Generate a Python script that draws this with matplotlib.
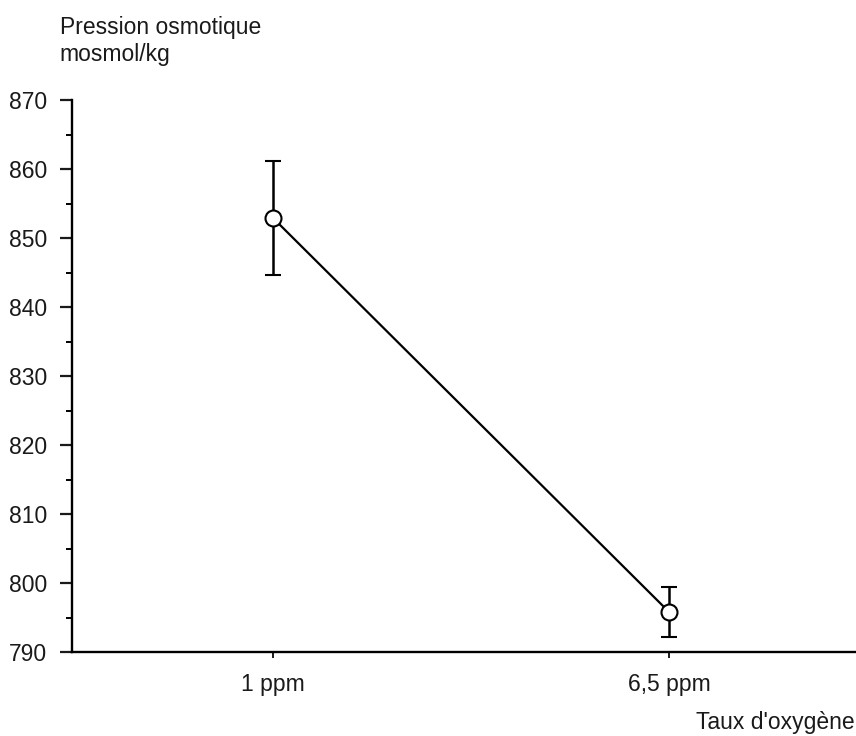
import matplotlib.pyplot as plt
import numpy as np
from matplotlib.ticker import MultipleLocator

plt.rcParams['font.family'] = ['Liberation Sans', 'DejaVu Sans']

labels = ['1 ppm', '6,5 ppm']
pression = [852.9, 795.8]
erreur = [8.3, 3.6]

fig = plt.figure(figsize=(8.56, 7.36), dpi=100)
ax = fig.add_axes([0.0841, 0.1141, 0.9159, 0.750])

x = np.arange(len(labels))
ax.errorbar(x, pression, yerr=erreur, color='black', linewidth=1.6,
            elinewidth=1.8, capsize=6, capthick=1.6, marker='o',
            markersize=11.5, markerfacecolor='white', markeredgecolor='black',
            markeredgewidth=1.5, zorder=3)

ax.set_xlim(-0.5076, 1.472)
ax.set_ylim(790, 870)
ax.set_xticks(x)
ax.set_xticklabels(labels)
ax.yaxis.set_major_locator(MultipleLocator(10))
ax.yaxis.set_minor_locator(MultipleLocator(5))

for s in ['top', 'right']:
    ax.spines[s].set_visible(False)
for s in ['left', 'bottom']:
    ax.spines[s].set_linewidth(1.7)

ax.tick_params(axis='y', which='major', direction='out', length=9, width=1.6,
               labelsize=16.5, pad=9, colors='#1a1a1a')
ax.tick_params(axis='y', which='minor', direction='out', length=4, width=1.4)
ax.tick_params(axis='x', which='major', direction='out', length=4, width=1.4,
               labelsize=16.5, pad=11, colors='#1a1a1a')

fig.text(0.070, 0.978, "Pression osmotique\nmosmol/kg", ha='left', va='top',
         fontsize=16.5, color='#1a1a1a', linespacing=1.2)
fig.text(0.998, 0.019, "Taux d'oxygène", ha='right', va='center',
         fontsize=16.5, color='#1a1a1a')

fig.savefig('out.png', dpi=100)
